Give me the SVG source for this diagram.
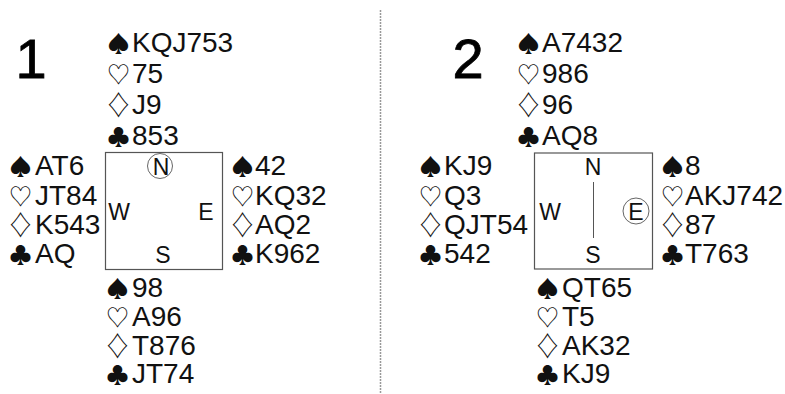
<svg xmlns="http://www.w3.org/2000/svg" width="785" height="394" viewBox="0 0 785 394">
<style>
.h{font-family:"Liberation Sans",Arial,sans-serif;font-size:28px;fill:#111}
.s{font-family:"Noto Sans CJK JP",sans-serif;font-size:23px}
.d{font-family:"Noto Sans CJK JP",sans-serif;font-size:27px}
.c{font-family:"Liberation Sans",Arial,sans-serif;font-size:23px;fill:#111;text-anchor:middle}
.num{font-family:"Liberation Sans",Arial,sans-serif;font-size:56px;fill:#000;text-anchor:middle;stroke:#000;stroke-width:0.8}
.box{fill:none;stroke:#555;stroke-width:1.2}
.ring{fill:none;stroke:#666;stroke-width:1}
</style>
<rect width="785" height="394" fill="#fff"/>
<line x1="380.5" y1="10" x2="380.5" y2="394" stroke="#999" stroke-width="1.5" stroke-dasharray="2 1"/>

<g id="title1"><text class="num" x="31" y="78">1</text></g>
<g id="north1"><text class="h">
<tspan class="s" x="107" y="52">♠</tspan><tspan x="132" y="52">KQJ753</tspan>
<tspan class="s" x="107" y="83">♡</tspan><tspan x="132" y="83">75</tspan>
<tspan class="d" x="105" y="115">♢</tspan><tspan x="132" y="114">J9</tspan>
<tspan class="s" x="107" y="145">♣</tspan><tspan x="132" y="145">853</tspan>
</text></g>
<g id="west1"><text class="h">
<tspan class="s" x="9" y="175">♠</tspan><tspan x="35" y="175">AT6</tspan>
<tspan class="s" x="9" y="205">♡</tspan><tspan x="35" y="205">JT84</tspan>
<tspan class="d" x="7" y="235">♢</tspan><tspan x="35" y="234">K543</tspan>
<tspan class="s" x="9" y="263">♣</tspan><tspan x="35" y="263">AQ</tspan>
</text></g>
<g id="east1"><text class="h">
<tspan class="s" x="231" y="175">♠</tspan><tspan x="255" y="175">42</tspan>
<tspan class="s" x="231" y="205">♡</tspan><tspan x="255" y="205">KQ32</tspan>
<tspan class="d" x="229" y="235">♢</tspan><tspan x="255" y="234">AQ2</tspan>
<tspan class="s" x="231" y="263">♣</tspan><tspan x="255" y="263">K962</tspan>
</text></g>
<g id="south1"><text class="h">
<tspan class="s" x="106" y="297">♠</tspan><tspan x="132" y="297">98</tspan>
<tspan class="s" x="106" y="326">♡</tspan><tspan x="132" y="326">A96</tspan>
<tspan class="d" x="104" y="356">♢</tspan><tspan x="132" y="355">T876</tspan>
<tspan class="s" x="106" y="383">♣</tspan><tspan x="132" y="383">JT74</tspan>
</text></g>
<g id="compass1">
<rect class="box" x="105.5" y="152.5" width="117" height="117"/>
<circle class="ring" cx="160" cy="166" r="12.5"/>
<text class="c" x="161" y="174.5">N</text>
<text class="c" x="119" y="220">W</text>
<text class="c" x="206" y="220">E</text>
<text class="c" x="163" y="263">S</text>
</g>

<g id="title2"><text class="num" x="468" y="78">2</text></g>
<g id="north2"><text class="h">
<tspan class="s" x="517" y="52">♠</tspan><tspan x="542" y="52">A7432</tspan>
<tspan class="s" x="517" y="83">♡</tspan><tspan x="542" y="83">986</tspan>
<tspan class="d" x="515" y="115">♢</tspan><tspan x="542" y="114">96</tspan>
<tspan class="s" x="517" y="145">♣</tspan><tspan x="542" y="145">AQ8</tspan>
</text></g>
<g id="west2"><text class="h">
<tspan class="s" x="419" y="175">♠</tspan><tspan x="444" y="175">KJ9</tspan>
<tspan class="s" x="419" y="205">♡</tspan><tspan x="444" y="205">Q3</tspan>
<tspan class="d" x="417" y="235">♢</tspan><tspan x="444" y="234">QJT54</tspan>
<tspan class="s" x="419" y="263">♣</tspan><tspan x="444" y="263">542</tspan>
</text></g>
<g id="east2"><text class="h">
<tspan class="s" x="661" y="175">♠</tspan><tspan x="685" y="175">8</tspan>
<tspan class="s" x="661" y="205">♡</tspan><tspan x="685" y="205">AKJ742</tspan>
<tspan class="d" x="659" y="235">♢</tspan><tspan x="685" y="234">87</tspan>
<tspan class="s" x="661" y="263">♣</tspan><tspan x="685" y="263">T763</tspan>
</text></g>
<g id="south2"><text class="h">
<tspan class="s" x="536" y="297">♠</tspan><tspan x="562" y="297">QT65</tspan>
<tspan class="s" x="536" y="326">♡</tspan><tspan x="562" y="326">T5</tspan>
<tspan class="d" x="534" y="356">♢</tspan><tspan x="562" y="355">AK32</tspan>
<tspan class="s" x="536" y="383">♣</tspan><tspan x="562" y="383">KJ9</tspan>
</text></g>
<g id="compass2">
<rect class="box" x="534.5" y="153" width="118" height="116"/>
<text class="c" x="593" y="175">N</text>
<text class="c" x="550" y="220">W</text>
<circle class="ring" cx="636" cy="211" r="13"/>
<text class="c" x="636" y="219.5">E</text>
<text class="c" x="593" y="263">S</text>
</g>
<g id="connectors">
<line x1="593.5" y1="182" x2="593.5" y2="238" stroke="#555" stroke-width="1"/>
</g>
</svg>
